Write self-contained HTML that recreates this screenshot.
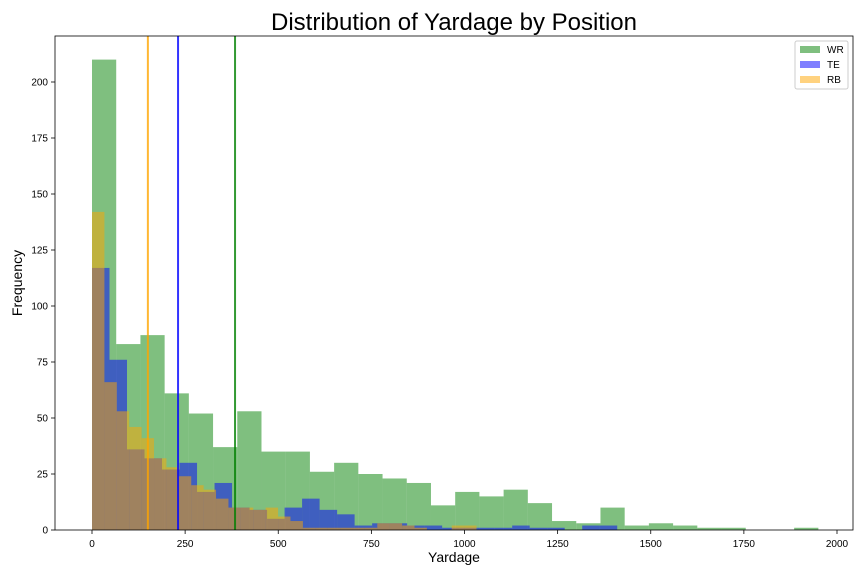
<!DOCTYPE html>
<html><head><meta charset="utf-8"><style>
body{margin:0;background:#fff;font-family:"Liberation Sans",sans-serif}
svg text{font-family:"Liberation Sans",sans-serif}
</style></head><body>
<svg id="chart" width="864" height="576" xmlns="http://www.w3.org/2000/svg"></svg>
<script>
const wrCounts=[210,83,87,61,52,37,53,35,35,26,30,25,23,21,11,17,15,18,12,4,3,10,2,3,2,1,1,0,0,1];
const teCounts=[117,76,36,32,27,30,17,21,10,9,5,10,14,9,7,2,3,3,2,2,1,1,1,1,2,1,1,0,2,2];
const rbCounts=[142,66,53,46,41,32,28,24,20,18,14,10,10,9,10,6,4,1,1,1,1,1,1,3,3,2,1,0,0,2,2];
const binWidths={WR:65,TE:47,RB:33.3};
const means={WR:384,TE:231,RB:150};
const xTicks=[0,250,500,750,1000,1250,1500,1750,2000];
const yTicks=[0,25,50,75,100,125,150,175,200];
const L=55,R=853,T=36,B=530;
const xS=v=>92+v*0.3725;
const yS=v=>530-v*2.24;
const svg=document.getElementById('chart');
const NS='http://www.w3.org/2000/svg';
function mk(t,a,p){const e=document.createElementNS(NS,t);for(const k in a)e.setAttribute(k,a[k]);(p||svg).appendChild(e);return e;}
function hist(counts,w,color,name){
  const g=mk('g',{});
  
  
  counts.forEach((c,i)=>{
    if(c<=0)return;
    const x0=xS(i*w),x1=xS((i+1)*w);
    const r=mk('rect',{x:x0,y:yS(c),width:x1-x0,height:yS(0)-yS(c),fill:color,'fill-opacity':0.5},g);
    
    
  });
}
hist(wrCounts,binWidths.WR,'rgb(0,128,0)','wr');
hist(teCounts,binWidths.TE,'rgb(0,0,255)','te');
hist(rbCounts,binWidths.RB,'rgb(255,165,0)','rb');
[['RB','rgb(255,165,0)'],['TE','rgb(0,0,255)'],['WR','rgb(0,128,0)']].forEach(([k,c])=>{
  const l=mk('line',{x1:xS(means[k]),x2:xS(means[k]),y1:T,y2:B,stroke:c,'stroke-width':2,'stroke-opacity':0.8});
  
  
});
const frame=mk('rect',{x:L,y:T,width:R-L,height:B-T,fill:'none',stroke:'#000','stroke-width':0.8});


xTicks.forEach(v=>{
  mk('line',{x1:xS(v),x2:xS(v),y1:B,y2:B+4,stroke:'#000','stroke-width':0.8});
  const t=mk('text',{x:xS(v),y:B+17,'font-size':10,'text-anchor':'middle'});t.textContent=v;
  
  
});
yTicks.forEach(v=>{
  mk('line',{x1:L-4,x2:L,y1:yS(v),y2:yS(v),stroke:'#000','stroke-width':0.8});
  const t=mk('text',{x:L-7,y:yS(v)+3.5,'font-size':10,'text-anchor':'end'});t.textContent=v;
  
  
});
</script>
<script>
(function(){
const svg=document.getElementById('chart');const NS='http://www.w3.org/2000/svg';
function mk(t,a){const e=document.createElementNS(NS,t);for(const k in a)e.setAttribute(k,a[k]);svg.appendChild(e);return e;}
const title=mk('text',{x:454,y:30,'font-size':24,'text-anchor':'middle'});title.textContent='Distribution of Yardage by Position';


const xl=mk('text',{x:454,y:562,'font-size':14,'text-anchor':'middle'});xl.textContent='Yardage';


const yl=mk('text',{x:22,y:283,'font-size':14,'text-anchor':'middle',transform:'rotate(-90 22 283)'});yl.textContent='Frequency';


const lg=mk('rect',{x:795,y:41,width:53,height:48,fill:'#fff',stroke:'#ccc','stroke-width':1,rx:2});


[['WR','rgb(0,128,0)'],['TE','rgb(0,0,255)'],['RB','rgb(255,165,0)']].forEach(([n,c],i)=>{
  const y=45+i*15;
  const s=mk('rect',{x:800,y:y+1,width:20,height:7,fill:c,'fill-opacity':0.5});
  
  
  const t=mk('text',{x:827,y:y+8,'font-size':10});t.textContent=n;
  
  
});
})();
</script>
</body></html>
